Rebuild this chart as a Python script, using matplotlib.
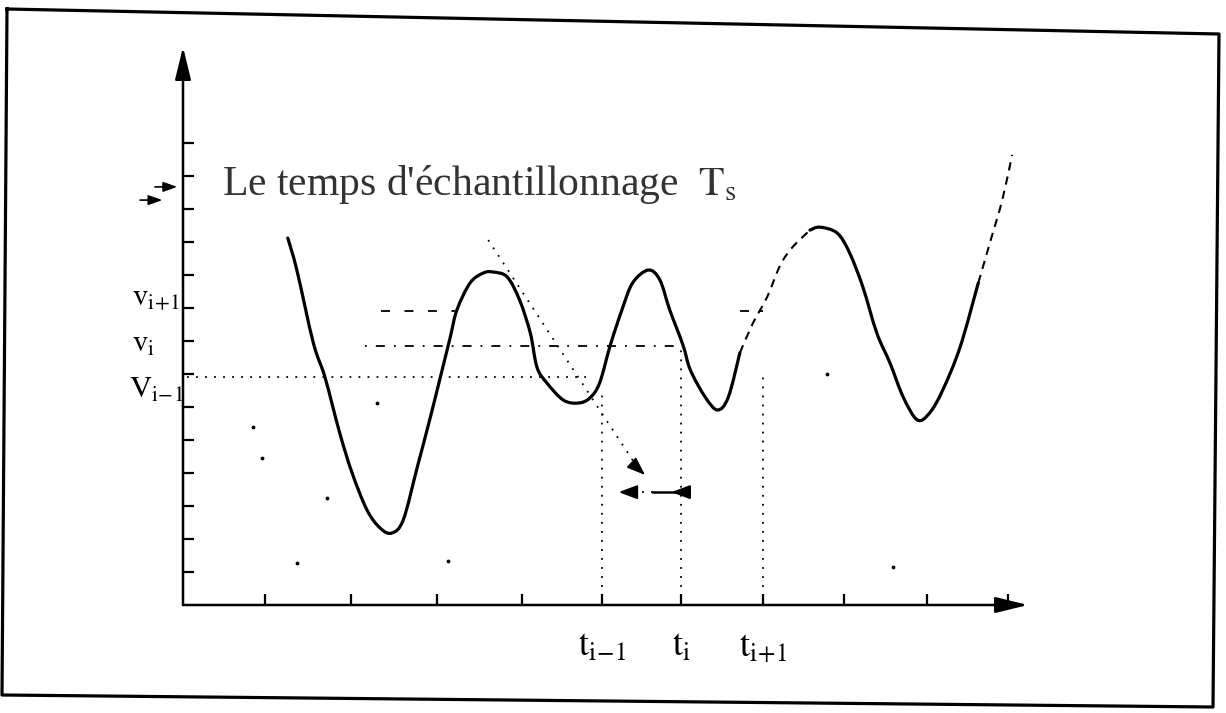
import matplotlib.pyplot as plt
from matplotlib.lines import Line2D
from matplotlib.path import Path
from matplotlib.patches import PathPatch

plt.rcParams["font.family"] = ["Liberation Serif", "DejaVu Serif"]
plt.rcParams["mathtext.fontset"] = "stix"

# --- data (time in sampling steps, signal in y-tick units) ---
# continuous signal, split where the scan shows it broken/dashed
t_part1 = [1.27, 1.38, 1.58, 1.72, 1.90, 2.05, 2.23, 2.39, 2.53, 2.67, 2.84, 2.99,
           3.12, 3.24, 3.32, 3.48, 3.64, 3.76, 3.93, 4.08, 4.21, 4.29, 4.41, 4.61,
           4.79, 4.93, 5.05, 5.18, 5.32, 5.45, 5.64, 5.78, 5.90, 6.06, 6.15, 6.33,
           6.48, 6.61, 6.75]
v_part1 = [11.12, 10.15, 7.94, 6.91, 5.21, 4.00, 2.88, 2.33, 2.18, 2.58, 4.18, 5.61,
           6.91, 8.12, 8.94, 9.76, 10.06, 10.09, 9.94, 9.24, 8.24, 7.21, 6.73, 6.21,
           6.12, 6.27, 6.73, 7.88, 8.94, 9.76, 10.15, 9.85, 8.94, 7.88, 7.12, 6.30,
           5.91, 6.30, 7.64]
t_part2 = [6.75, 6.91, 7.08, 7.24, 7.39, 7.60]
v_part2 = [7.64, 8.55, 9.33, 10.30, 10.85, 11.36]
t_part3 = [7.60, 7.72, 7.93, 8.08, 8.24, 8.41, 8.57, 8.73, 8.90, 9.05, 9.21, 9.42, 9.64]
v_part3 = [11.36, 11.45, 11.27, 10.67, 9.64, 8.24, 7.33, 6.30, 5.61, 5.82, 6.52, 7.82, 9.76]
t_part4 = [9.64, 9.78, 9.93, 10.05]
v_part4 = [9.76, 10.97, 12.27, 13.64]

x_ticks = [0.99, 2.04, 3.08, 4.11, 5.08, 6.04, 7.03, 8.01, 9.02, 10.0]
y_ticks = list(range(1, 15))
x_tick_labels = ["", "", "", "", r"$\mathrm{t_{i\!-\!1}}$", r"$\mathrm{t_i}$",
                 r"$\mathrm{t_{i\!+\!1}}$", "", "", ""]

t_samples = [5.08, 6.04, 7.03]          # t_{i-1}, t_i, t_{i+1}
t_drop_top = [6.4, 7.85, 7.0]           # where the vertical dotted lines stop
v_levels = [6.9, 7.85, 8.9]             # v_{i-1}, v_i, v_{i+1}
v_labels = [r"$\mathrm{V_{i\!-\!1}}$", r"$\mathrm{v_i}$", r"$\mathrm{v_{i\!+\!1}}$"]
v_label_pos = [(-0.65, 6.27), (-0.62, 7.67), (-0.62, 9.05)]

specks_t = [0.85, 0.96, 1.75, 1.38, 3.21, 7.8, 8.6, 2.35]
specks_v = [5.39, 4.45, 3.24, 1.27, 1.33, 7.0, 1.15, 6.12]


def smooth(ts, vs):
    # Catmull-Rom through the read points, drawn as cubic Bezier segments
    pts = list(zip(ts, vs))
    verts, codes = [pts[0]], [Path.MOVETO]
    for i in range(len(pts) - 1):
        p0 = pts[i - 1] if i > 0 else pts[i]
        p1, p2 = pts[i], pts[i + 1]
        p3 = pts[i + 2] if i + 2 < len(pts) else pts[i + 1]
        c1 = (p1[0] + (p2[0] - p0[0]) / 6, p1[1] + (p2[1] - p0[1]) / 6)
        c2 = (p2[0] - (p3[0] - p1[0]) / 6, p2[1] - (p3[1] - p1[1]) / 6)
        verts += [c1, c2, p2]
        codes += [Path.CURVE4] * 3
    return Path(verts, codes)


fig = plt.figure(figsize=(12.26, 7.13), dpi=100)
ax = fig.add_axes([183 / 1226, (713 - 605) / 713, 845 / 1226, 558 / 713])
ax.set_xlim(0, 845 / 82.5)
ax.set_ylim(0, 558 / 33)
for s in ax.spines.values():
    s.set_visible(False)
ax.patch.set_visible(False)

# axes with arrows
arr = dict(arrowstyle="-|>,head_length=0.9,head_width=0.22", lw=1.8, color="black",
           shrinkA=0, shrinkB=0, mutation_scale=22)
ax.annotate("", xy=(0, 558 / 33), xytext=(0, 0), arrowprops=arr)
ax.annotate("", xy=(845 / 82.5, 0), xytext=(0, 0), arrowprops=arr)

# ticks
ax.set_xticks(x_ticks)
ax.set_xticklabels(x_tick_labels, fontsize=26)
ax.set_yticks(y_ticks)
ax.set_yticklabels([])
ax.tick_params(axis="both", direction="in", length=8, width=1.6, color="black")
ax.tick_params(axis="x", pad=19)

# signal
for ts, vs, dashed in [(t_part1, v_part1, False), (t_part2, v_part2, True),
                       (t_part3, v_part3, False), (t_part4, v_part4, True)]:
    if dashed:
        patch = PathPatch(smooth(ts, vs), fill=False, lw=1.5, ec="black",
                          linestyle=(0, (4, 3)))
    else:
        patch = PathPatch(smooth(ts, vs), fill=False, lw=2.3, ec="black",
                          joinstyle="round", capstyle="round")
    ax.add_patch(patch)

# horizontal reference levels
ax.plot([0.05, 4.94], [v_levels[0]] * 2, color="black", lw=1.3, linestyle=(0, (1, 4)))
ax.plot([2.2, t_samples[1]], [v_levels[1]] * 2, color="black", lw=1.3,
        linestyle=(0, (1, 5, 5, 5)))
ax.plot([2.4, 3.3], [v_levels[2]] * 2, color="black", lw=1.3, linestyle=(0, (5, 8)))
ax.plot([6.75, t_samples[2]], [v_levels[2]] * 2, color="black", lw=1.3,
        linestyle=(0, (5, 6)))

# vertical sample lines
for t, top in zip(t_samples, t_drop_top):
    ax.plot([t, t], [0, top], color="black", lw=1.3, linestyle=(0, (1, 4)))

# level labels
for (x, y), lab in zip(v_label_pos, v_labels):
    ax.text(x, y, lab, fontsize=22, ha="left", va="baseline", clip_on=False)

# title text and pointer
ax.text(0.473, 12.42, "Le temps d'échantillonnage  $\\mathrm{T_s}$", fontsize=30,
        color="#333333", ha="left", va="baseline")
ax.plot([3.70, 5.52], [11.06, 4.12], color="black", lw=1.3, linestyle=(0, (1, 4)))
ax.annotate("", xy=(5.60, 3.94), xytext=(5.50, 4.17),
            arrowprops=dict(arrowstyle="-|>,head_length=0.8,head_width=0.3",
                            color="black", lw=1.2, shrinkA=0, shrinkB=0,
                            mutation_scale=14))

# sampling interval arrow
ya = 3.42
ax.plot([5.35, 5.70], [ya, ya], color="black", lw=1.3, linestyle=(0, (1, 4)))
ax.plot([5.70, 6.04], [ya, ya], color="black", lw=1.8)
ax.annotate("", xy=(5.28, ya), xytext=(5.42, ya),
            arrowprops=dict(arrowstyle="-|>,head_length=0.8,head_width=0.3",
                            color="black", lw=1.5, shrinkA=0, shrinkB=0,
                            mutation_scale=14))
ax.annotate("", xy=(5.92, ya), xytext=(6.04, ya),
            arrowprops=dict(arrowstyle="-|>,head_length=0.8,head_width=0.3",
                            color="black", lw=1.5, shrinkA=0, shrinkB=0,
                            mutation_scale=14))

# small marks near the y axis at the text level
for (x0, x1, y) in [(-0.34, -0.07, 12.67), (-0.52, -0.25, 12.27)]:
    ax.annotate("", xy=(x1, y), xytext=(x0, y),
                arrowprops=dict(arrowstyle="-|>,head_length=0.7,head_width=0.25",
                                color="black", lw=1.2, shrinkA=0, shrinkB=0,
                                mutation_scale=12), annotation_clip=False)

# scan specks
ax.scatter(specks_t, specks_v, s=3, color="black", clip_on=False)

# outer frame (slightly skewed, like the scan)
fx = [7, 1219, 1213, 2, 7]
fy = [9, 34, 707, 695, 9]
fig.add_artist(Line2D([x / 1226 for x in fx], [1 - y / 713 for y in fy],
                      transform=fig.transFigure, color="black", lw=2.3))

fig.savefig("out.png", dpi=100)
